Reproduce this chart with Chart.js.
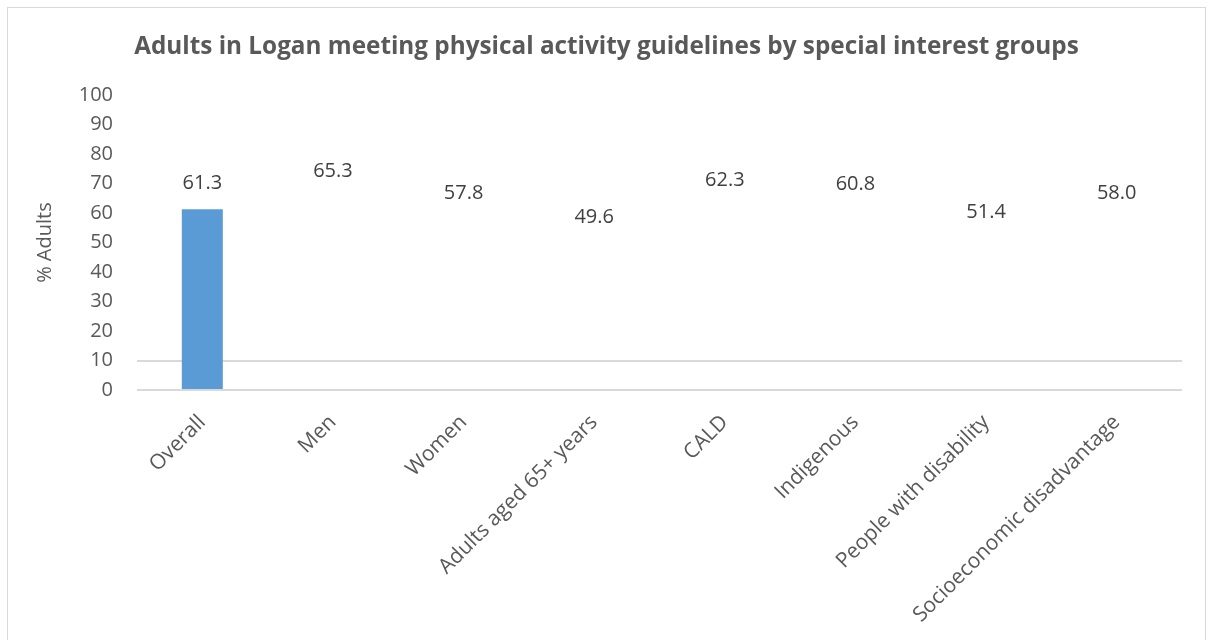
<!DOCTYPE html>
<html>
<head>
<meta charset="utf-8">
<script src="https://cdn.jsdelivr.net/npm/chart.js@4"></script>
<style>
  html, body { margin: 0; padding: 0; background: #fff; overflow: hidden; }
  #wrap {
    position: absolute; left: 7px; top: 7px;
    width: 1199px; height: 640px;
    border: 1px solid #d9d9d9; box-sizing: border-box;
  }
  canvas { display: block; }
</style>
</head>
<body>
<div id="wrap"><canvas id="myChart"></canvas></div>
<script>
const categories = [
    'Overall', 'Men', 'Women', 'Adults aged 65+ years',
    'CALD', 'Indigenous', 'People with disability', 'Socioeconomic disadvantage'
];
const values = [61.3, 65.3, 57.8, 49.6, 62.3, 60.8, 51.4, 58.0];
// only the first bar is visibly filled in the original
const barColors = ['#5B9BD5', 'rgba(0,0,0,0)', 'rgba(0,0,0,0)', 'rgba(0,0,0,0)',
    'rgba(0,0,0,0)', 'rgba(0,0,0,0)', 'rgba(0,0,0,0)', 'rgba(0,0,0,0)'];
const yTicks = [0, 10, 20, 30, 40, 50, 60, 70, 80, 90, 100];
const shownGridLines = [0, 10];

const FONT = '"Open Sans", sans-serif';

const valueLabels = {
    id: 'valueLabels',
    afterDatasetsDraw(chart) {
        const ctx = chart.ctx;
        const meta = chart.getDatasetMeta(0);
        ctx.save();
        ctx.font = '20px ' + FONT;
        ctx.fillStyle = '#404040';
        ctx.textAlign = 'center';
        ctx.textBaseline = 'middle';
        meta.data.forEach((bar, i) => {
            ctx.fillText(values[i].toFixed(1), bar.x, bar.y - 26);
        });
        ctx.restore();
    }
};

document.addEventListener('DOMContentLoaded', function () {
    const ctx = document.getElementById('myChart').getContext('2d');
    new Chart(ctx, {
        type: 'bar',
        data: {
            labels: categories,
            datasets: [{
                data: values,
                backgroundColor: barColors,
                barPercentage: 0.314,
                categoryPercentage: 1.0
            }]
        },
        options: {
            responsive: true,
            maintainAspectRatio: false,
            animation: false,
            layout: { padding: { left: 23, right: 23, top: 0, bottom: 0 } },
            plugins: {
                legend: { display: false },
                tooltip: { enabled: false },
                title: {
                    display: true,
                    text: 'Adults in Logan meeting physical activity guidelines by special interest groups',
                    color: '#595959',
                    font: { family: FONT, size: 24.3, weight: 'bold' },
                    padding: { top: 24, bottom: 34 }
                }
            },
            scales: {
                y: {
                    min: 0,
                    max: 100,
                    afterBuildTicks: axis => { axis.ticks = yTicks.map(v => ({ value: v })); },
                    afterFit: axis => { axis.width = 106; },
                    border: { display: false },
                    grid: {
                        drawTicks: false,
                        lineWidth: 2,
                        color: c => shownGridLines.includes(c.tick.value) ? '#d9d9d9' : 'rgba(0,0,0,0)'
                    },
                    ticks: {
                        color: '#595959',
                        font: { family: FONT, size: 20 },
                        padding: 24
                    },
                    title: {
                        display: true,
                        text: '% Adults',
                        color: '#595959',
                        font: { family: FONT, size: 20 },
                        padding: { top: 2, bottom: 0 }
                    }
                },
                x: {
                    afterFit: axis => { axis.height = 256; },
                    border: { display: false },
                    grid: { display: false },
                    ticks: {
                        color: '#595959',
                        font: { family: FONT, size: 21 },
                        minRotation: 45,
                        maxRotation: 45,
                        padding: 12
                    }
                }
            }
        },
        plugins: [valueLabels]
    });
});
</script>
</body>
</html>
